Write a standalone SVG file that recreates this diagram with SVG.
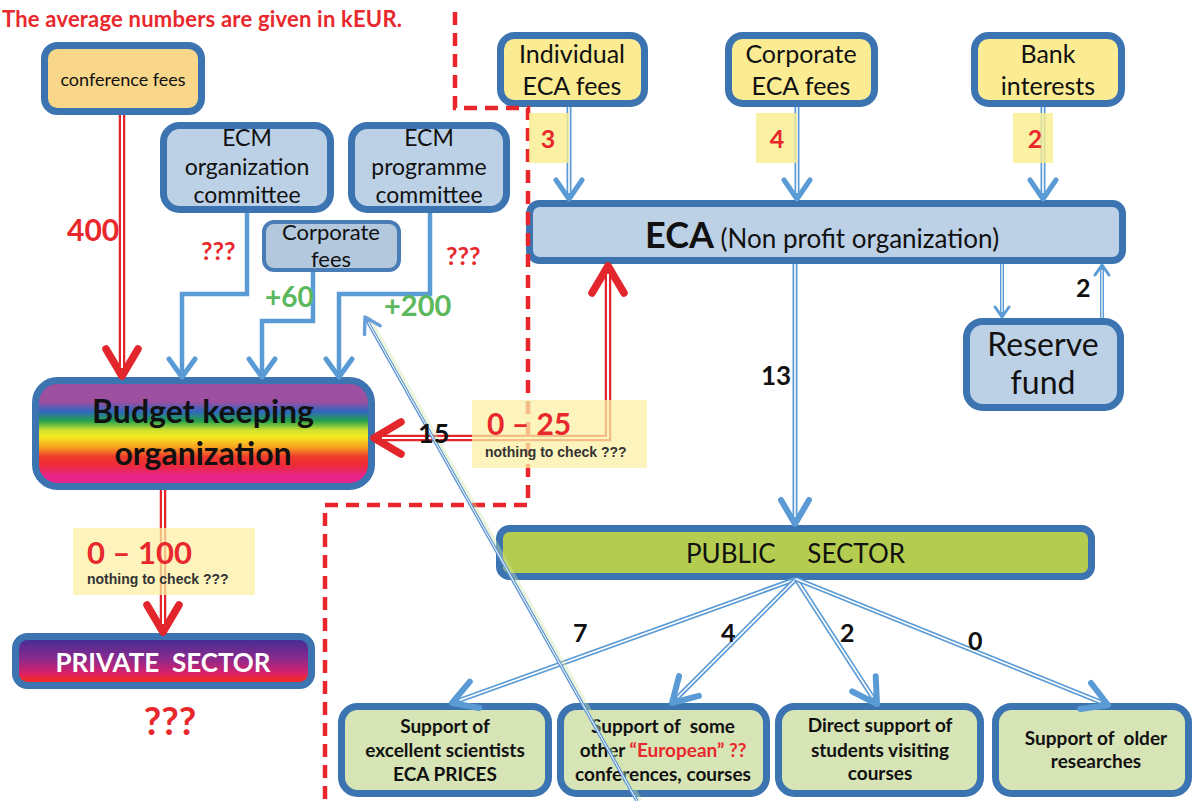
<svg xmlns="http://www.w3.org/2000/svg" width="1194" height="801" viewBox="0 0 1194 801">
<defs>
<style>
text{font-family:Lato,"Liberation Sans",sans-serif}
.box{stroke:#3b74b0;stroke-width:7}
.yel{fill:#fbec93}
.blu{fill:#bdd1e6}
.grn{fill:#d7e4b5}
.t{fill:#111;text-anchor:middle}
.b{font-weight:bold}
.bd{fill:none;stroke:#5b9bd5;stroke-width:5}
.bw{fill:none;stroke:#fff;stroke-width:1.6}
.rd{fill:none;stroke:#e3262b;stroke-width:6.5}
.rw{fill:none;stroke:#fff;stroke-width:2}
.sl{fill:none;stroke:#5b9bd5;stroke-width:4.5}
.red{fill:#e8282d;font-weight:bold}
.blk{fill:#111;font-weight:bold}
.gr{fill:#5cb85c;font-weight:bold}
.hl{fill:#f9ee8d;opacity:.8}
.hl2{fill:#fbf0a6;opacity:.75}
.note{font-family:"Liberation Sans",Arial,sans-serif;font-weight:bold;font-size:14px;fill:#333}
.mk{fill:none;stroke-linecap:round;stroke-linejoin:round}
</style>
<marker id="mb" viewBox="-30 -20 40 40" markerWidth="40" markerHeight="40" markerUnits="userSpaceOnUse" refX="0" refY="0" orient="auto-start-reverse"><path class="mk" d="M-19,-13 L0,0 L-19,13" stroke="#5b9bd5" stroke-width="5"/></marker>
<marker id="mbl" viewBox="-34 -22 44 44" markerWidth="44" markerHeight="44" markerUnits="userSpaceOnUse" refX="0" refY="0" orient="auto-start-reverse"><path class="mk" d="M-24,-14 L0,0 L-24,14" stroke="#5b9bd5" stroke-width="6"/></marker>
<marker id="ms" viewBox="-30 -20 40 40" markerWidth="40" markerHeight="40" markerUnits="userSpaceOnUse" refX="0" refY="0" orient="auto-start-reverse"><path class="mk" d="M-18,-13 L0,0 L-18,13" stroke="#5b9bd5" stroke-width="5"/></marker>
<marker id="mbs" viewBox="-20 -12 24 24" markerWidth="24" markerHeight="24" markerUnits="userSpaceOnUse" refX="0" refY="0" orient="auto-start-reverse"><path class="mk" d="M-10,-7 L0,0 L-10,7" stroke="#5b9bd5" stroke-width="3"/></marker>
<marker id="mr" viewBox="-40 -25 50 50" markerWidth="50" markerHeight="50" markerUnits="userSpaceOnUse" refX="0" refY="0" orient="auto-start-reverse"><path class="mk" d="M-27,-16 L0,0 L-27,16" stroke="#e3262b" stroke-width="7.5"/></marker>
<marker id="md" viewBox="-24 -16 30 32" markerWidth="30" markerHeight="32" markerUnits="userSpaceOnUse" refX="0" refY="0" orient="auto-start-reverse"><path class="mk" d="M-15,-9 L0,0 L-15,9" stroke="#6a9fd8" stroke-width="3.5"/></marker>
<linearGradient id="rainbow" x1="0" y1="0" x2="0" y2="1">
<stop offset="0" stop-color="#9d4fa0"/>
<stop offset="0.2" stop-color="#9d4fa0"/>
<stop offset="0.29" stop-color="#3066c0"/>
<stop offset="0.38" stop-color="#22a04c"/>
<stop offset="0.47" stop-color="#d2e22e"/>
<stop offset="0.53" stop-color="#f6ea22"/>
<stop offset="0.63" stop-color="#f7a021"/>
<stop offset="0.72" stop-color="#ef3a2c"/>
<stop offset="0.8" stop-color="#ec2a38"/>
<stop offset="0.9" stop-color="#e6238a"/>
<stop offset="1" stop-color="#e6238a"/>
</linearGradient>
<linearGradient id="priv" x1="0" y1="0" x2="0" y2="1">
<stop offset="0" stop-color="#3a2e98"/>
<stop offset="0.45" stop-color="#8a2a8c"/>
<stop offset="0.75" stop-color="#d8216a"/>
<stop offset="0.86" stop-color="#ee2a30"/>
<stop offset="1" stop-color="#ee2a30"/>
</linearGradient>
</defs>

<text x="2" y="27" class="red" font-size="22" textLength="400">The average numbers are given in kEUR.</text>

<g id="conference-fees">
<rect class="box" x="44.5" y="45.5" width="157" height="66" rx="13" fill="#f9d78a"/>
<text class="t" x="123" y="86" font-size="18">conference fees</text>
</g>
<g id="ecm-organization">
<rect class="box blu" x="163.5" y="125.5" width="167" height="84" rx="16"/>
<text class="t" x="247" y="146" font-size="23">ECM</text>
<text class="t" x="247" y="175" font-size="23">organization</text>
<text class="t" x="247" y="203" font-size="23">committee</text>
</g>
<g id="ecm-programme">
<rect class="box blu" x="351.5" y="125.5" width="155" height="84" rx="16"/>
<text class="t" x="429" y="146" font-size="23">ECM</text>
<text class="t" x="429" y="175" font-size="23">programme</text>
<text class="t" x="429" y="203" font-size="23">committee</text>
</g>
<g id="corporate-fees">
<rect x="264" y="222" width="135" height="48" rx="10" fill="#b3c7dd" stroke="#4a7db5" stroke-width="4"/>
<text class="t" x="331" y="240" font-size="22">Corporate</text>
<text class="t" x="331" y="267" font-size="22">fees</text>
</g>
<g id="budget">
<rect class="box" x="35.5" y="380.5" width="336" height="106" rx="22" fill="url(#rainbow)"/>
<text class="t b" x="203" y="423" font-size="32">Budget keeping</text>
<text class="t b" x="203" y="465" font-size="32">organization</text>
</g>
<g id="private-sector">
<rect class="box" x="15.5" y="636.5" width="296" height="49" rx="12" fill="url(#priv)"/>
<text class="t b" x="163" y="672" font-size="26" style="fill:#fff" xml:space="preserve">PRIVATE  SECTOR</text>
</g>
<g id="individual-fees">
<rect class="box yel" x="500.5" y="35.5" width="144" height="68" rx="14"/>
<text class="t" x="572" y="63" font-size="25">Individual</text>
<text class="t" x="572" y="95" font-size="25">ECA fees</text>
</g>
<g id="corporate-eca-fees">
<rect class="box yel" x="728.5" y="35.5" width="146" height="68" rx="14"/>
<text class="t" x="801" y="63" font-size="25">Corporate</text>
<text class="t" x="801" y="95" font-size="25">ECA fees</text>
</g>
<g id="bank-interests">
<rect class="box yel" x="974.5" y="35.5" width="147" height="68" rx="14"/>
<text class="t" x="1048" y="63" font-size="25">Bank</text>
<text class="t" x="1048" y="95" font-size="25">interests</text>
</g>
<g id="eca">
<rect class="box blu" x="529.5" y="203.5" width="593" height="57" rx="10"/>
<text x="645" y="248" fill="#111"><tspan font-weight="bold" font-size="36">ECA</tspan><tspan font-size="26"> (Non profit organization)</tspan></text>
</g>
<g id="reserve-fund">
<rect class="box blu" x="966.5" y="321.5" width="154" height="86" rx="16"/>
<text class="t" x="1043" y="356" font-size="32">Reserve</text>
<text class="t" x="1043" y="394" font-size="32">fund</text>
</g>
<g id="public-sector">
<rect class="box" x="499.5" y="528.5" width="592" height="48" rx="10" fill="#b4cc4f"/>
<text x="686" y="563" font-size="26" fill="#111">PUBLIC</text>
<text x="905" y="563" font-size="26" fill="#111" text-anchor="end">SECTOR</text>
</g>
<g id="support-excellent">
<rect class="box grn" x="341.5" y="706.5" width="207" height="87" rx="16"/>
<text class="t b" x="445" y="733" font-size="19">Support of</text>
<text class="t b" x="445" y="757" font-size="19">excellent scientists</text>
<text class="t b" x="445" y="781" font-size="19">ECA PRICES</text>
</g>
<g id="support-european">
<rect class="box grn" x="560.5" y="706.5" width="206" height="87" rx="16"/>
<text class="t b" x="663" y="733" font-size="19" xml:space="preserve">Support of  some</text>
<text class="t b" x="663" y="757" font-size="19">other <tspan fill="#e8282d">“European” ??</tspan></text>
<text class="t b" x="663" y="781" font-size="19">conferences, courses</text>
</g>
<g id="support-students">
<rect class="box grn" x="778.5" y="706.5" width="202" height="87" rx="16"/>
<text class="t b" x="880" y="732" font-size="19">Direct support of</text>
<text class="t b" x="880" y="757" font-size="19">students visiting</text>
<text class="t b" x="880" y="780" font-size="19">courses</text>
</g>
<g id="support-older">
<rect class="box grn" x="995.5" y="706.5" width="193" height="87" rx="16"/>
<text class="t b" x="1096" y="745" font-size="19" xml:space="preserve">Support of  older</text>
<text class="t b" x="1096" y="768" font-size="19">researches</text>
</g>

<path id="boundary" d="M455,12 V108 H528 V505 H325 V801" fill="none" stroke="#e8262b" stroke-width="4.5" stroke-dasharray="13 8"/>

<g id="connectors">
<path class="rd" d="M122,115 V376" marker-end="url(#mr)"/><path class="rw" d="M122,115 V368"/>
<path class="rd" d="M163,490 V632" marker-end="url(#mr)"/><path class="rw" d="M163,490 V624"/>
<path class="rd" d="M374,438 H608 V266" marker-start="url(#mr)" marker-end="url(#mr)"/><path class="rw" d="M382,438 H608 V274"/>
<path class="sl" d="M247,213 V294 H182 V377" marker-end="url(#ms)"/>
<path class="sl" d="M313,272 V321 H262 V377" marker-end="url(#ms)"/>
<path class="sl" d="M430,213 V294 H339 V377" marker-end="url(#ms)"/>
<path class="bd" d="M569,107 V199" marker-end="url(#mb)"/><path class="bw" d="M569,107 V193"/>
<path class="bd" d="M797,107 V199" marker-end="url(#mb)"/><path class="bw" d="M797,107 V193"/>
<path class="bd" d="M1043,107 V199" marker-end="url(#mb)"/><path class="bw" d="M1043,107 V193"/>
<path class="bd" d="M795,264 V524" marker-end="url(#mbl)"/><path class="bw" d="M795,264 V517"/>
<path class="bd" style="stroke-width:4" d="M1002,264 V317" marker-end="url(#mbs)"/><path class="bw" style="stroke-width:1.2" d="M1002,264 V312"/>
<path class="bd" style="stroke-width:4" d="M1102,318 V265" marker-end="url(#mbs)"/><path class="bw" style="stroke-width:1.2" d="M1102,318 V270"/>
<path class="bd" d="M796,579 L452,703" marker-end="url(#mbl)"/><path class="bw" d="M796,579 L459.5,700.3"/>
<path class="bd" d="M796,579 L672,703" marker-end="url(#mbl)"/><path class="bw" d="M796,579 L677.7,697.3"/>
<path class="bd" d="M796,579 L877,704" marker-end="url(#mbl)"/><path class="bw" d="M796,579 L872.7,697.3"/>
<path class="bd" d="M796,579 L1108,705" marker-end="url(#mbl)"/><path class="bw" d="M796,579 L1100.6,702"/>
<path d="M640,801 L368,317" fill="none" stroke="#cfe6a8" stroke-width="5" opacity=".4"/>
<path d="M637,801 L365,317" fill="none" stroke="#5f97d6" stroke-width="3.4" marker-end="url(#md)"/>
<path d="M637,801 L368,322" fill="none" stroke="#fff" stroke-width="1"/>
</g>

<g id="labels">
<text x="67" y="241" class="red" font-size="30">400</text>
<text x="201" y="260" class="red" font-size="25">???</text>
<text x="446" y="265" class="red" font-size="25">???</text>
<text x="265" y="307" class="gr" font-size="28">+60</text>
<text x="384" y="316" class="gr" font-size="29">+200</text>
<rect class="hl" x="529" y="113" width="40" height="50"/>
<text x="548" y="148" class="red" font-size="25" text-anchor="middle">3</text>
<rect class="hl" x="756" y="113" width="41" height="50"/>
<text x="777" y="148" class="red" font-size="25" text-anchor="middle">4</text>
<rect class="hl" x="1013" y="113" width="40" height="50"/>
<text x="1035" y="148" class="red" font-size="25" text-anchor="middle">2</text>
<text x="761" y="385" class="blk" font-size="26">13</text>
<text x="1076" y="297" class="blk" font-size="25">2</text>
<rect class="hl2" x="472" y="400" width="175" height="68"/>
<text x="487" y="435" class="red" font-size="30">0 – 25</text>
<text x="485" y="457" class="note">nothing to check ???</text>
<text x="418" y="443" class="blk" font-size="27">15</text>
<rect class="hl2" x="73" y="528" width="182" height="67"/>
<text x="87" y="564" class="red" font-size="31">0 – 100</text>
<text x="87" y="584" class="note">nothing to check ???</text>
<text x="170" y="735" class="red" font-size="38" text-anchor="middle">???</text>
<text x="573" y="642" class="blk" font-size="25">7</text>
<text x="721" y="642" class="blk" font-size="25">4</text>
<text x="840" y="642" class="blk" font-size="25">2</text>
<text x="968" y="650" class="blk" font-size="25">0</text>
</g>
</svg>
